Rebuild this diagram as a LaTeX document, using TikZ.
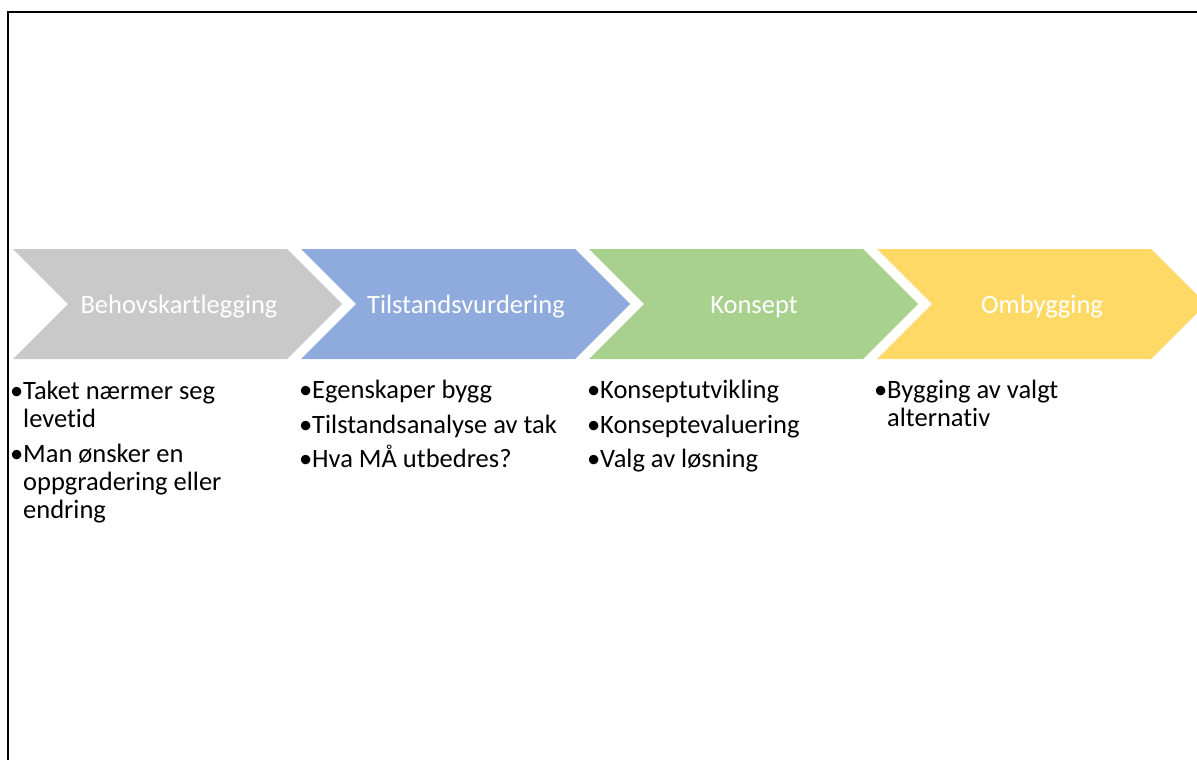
\documentclass[tikz,border=0pt]{standalone}
\usepackage{fontspec}
\setmainfont{Carlito}[Ligatures={NoCommon}]
\definecolor{stepgray}{HTML}{C9C9C9}
\definecolor{stepblue}{HTML}{8FAADC}
\definecolor{stepgreen}{HTML}{A9D18E}
\definecolor{stepyellow}{HTML}{FFD966}
\newcommand{\phasefont}{\fontsize{26.5}{28}\selectfont}
\newcommand{\bulletrow}[1]{\makebox[13pt][l]{•}#1}
\begin{document}
\begin{tikzpicture}[x=1pt,y=-1pt,
  phaselabel/.style={anchor=base,inner sep=0pt,text=white,font=\phasefont},
  itemtext/.style={anchor=base west,inner sep=0pt,font=\phasefont,text=black},
  frameline/.style={line width=2pt,black}]
\useasboundingbox (0,0) rectangle (1197,760);
\begin{scope}
\clip (0,0) rectangle (1197,760);
% page frame, open to the right and bottom
\draw[frameline] (8,770) -- (8,12) -- (1210,12);
% process chevrons
\foreach \x/\c in {13/stepgray,301/stepblue,589/stepgreen,877/stepyellow}{
  \fill[\c] (\x,249) -- ++(274,0) -- ++(55,55) -- ++(-55,55) -- ++(-274,0) -- ++(55,-55) -- cycle;
}
\end{scope}
% phase titles
\node[phaselabel] (p1) at (179,313) {Behovskartlegging};
\node[phaselabel] (p2) at (466,313) {Tilstandsvurdering};
\node[phaselabel] (p3) at (754,313) {Konsept};
\node[phaselabel] (p4) at (1042,313) {Ombygging};
% bullet lists under each phase
\node[itemtext] (a1) at (10,399) {\begin{tabular}[t]{@{}l@{}}\bulletrow{Taket nærmer seg}\\\hspace{13pt}levetid\end{tabular}};
\node[itemtext] (a2) at (10,462) {\begin{tabular}[t]{@{}l@{}}\bulletrow{Man ønsker en}\\\hspace{13pt}oppgradering eller\\\hspace{13pt}endring\end{tabular}};
\node[itemtext] (b1) at (299,398) {\bulletrow{Egenskaper bygg}};
\node[itemtext] (b2) at (299,433) {\bulletrow{Tilstandsanalyse av tak}};
\node[itemtext] (b3) at (299,467) {\bulletrow{Hva MÅ utbedres?}};
\node[itemtext] (c1) at (587,398) {\bulletrow{Konseptutvikling}};
\node[itemtext] (c2) at (587,433) {\bulletrow{Konseptevaluering}};
\node[itemtext] (c3) at (587,467) {\bulletrow{Valg av løsning}};
\node[itemtext] (d1) at (874,398) {\begin{tabular}[t]{@{}l@{}}\bulletrow{Bygging av valgt}\\\hspace{13pt}alternativ\end{tabular}};
\end{tikzpicture}
\end{document}
